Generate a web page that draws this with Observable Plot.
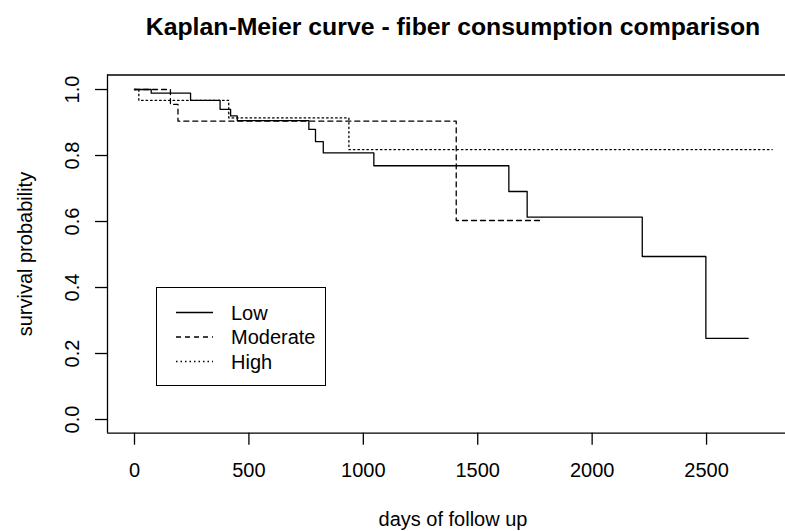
<!DOCTYPE html>
<html><head><meta charset="utf-8">
<script src="https://cdn.jsdelivr.net/npm/d3@7"></script>
<script src="https://cdn.jsdelivr.net/npm/@observablehq/plot@0.6"></script>
<style>
body{margin:0;background:#fff;}
#wrap{position:relative;width:785px;height:531px;font-family:"Liberation Sans",Arial,sans-serif;}
#legend{position:absolute;left:156px;top:287px;width:168px;height:97px;border:1.3px solid #000;box-sizing:content-box;}
#legend svg{position:absolute;left:0;top:0;}
</style></head>
<body><div id="wrap"></div>
<script>
const titleText = "Kaplan-Meier curve - fiber consumption comparison";
const xLabel = "days of follow up";
const yLabel = "survival probability";
const xTicks = [0, 500, 1000, 1500, 2000, 2500];
const yTicks = [0, 0.2, 0.4, 0.6, 0.8, 1.0];
const groups = ["Low", "Moderate", "High"];
const dashes = ["none", "5,4", "1.5,3"];

const lowTime = [0, 73, 245, 374, 420, 449, 762, 791, 825, 1046, 1636, 1716, 2219, 2497, 2682];
const lowSurv = [1, 0.989, 0.967, 0.940, 0.920, 0.906, 0.879, 0.842, 0.808, 0.769, 0.691, 0.613, 0.494, 0.246, 0.246];
const modTime = [0, 157, 190, 1406, 1775];
const modSurv = [1, 0.955, 0.904, 0.603, 0.603];
const highTime = [0, 19, 412, 937, 2787];
const highSurv = [1, 0.967, 0.914, 0.818, 0.818];

const times = [lowTime, modTime, highTime];
const survs = [lowSurv, modSurv, highSurv];
const rows = groups.map((g, k) => times[k].map((t, i) => ({group: g, t, s: survs[k][i]})));

const xDom = [-118, 2845];
const yDom = [-0.0415, 1.044];
const font = "'Liberation Sans', Arial, sans-serif";

const chart = Plot.plot({
  width: 785, height: 531,
  marginLeft: 107, marginRight: 0, marginTop: 74.5, marginBottom: 98.3,
  x: {domain: xDom, axis: null},
  y: {domain: yDom, axis: null},
  style: {fontFamily: font, fontSize: "20px", color: "#000", background: "transparent", overflow: "visible"},
  marks: [
    Plot.ruleY([yDom[1]], {stroke: "#000", strokeWidth: 1.3}),
    Plot.ruleY([yDom[0]], {stroke: "#000", strokeWidth: 1.3}),
    Plot.ruleX([xDom[0]], {stroke: "#000", strokeWidth: 1.3}),
    Plot.axisX({ticks: xTicks, tickSize: 12, tickFormat: () => "", label: null, strokeWidth: 1.3}),
    Plot.axisY({ticks: yTicks, tickSize: 12, tickFormat: () => "", label: null, strokeWidth: 1.3}),
    Plot.text(xTicks, {x: d => d, frameAnchor: "bottom", lineAnchor: "middle", textAnchor: "middle", dy: 37, text: d => String(d), fontSize: 20, fill: "#000"}),
    Plot.text(yTicks, {y: d => d, frameAnchor: "left", lineAnchor: "middle", textAnchor: "middle", dx: -35, rotate: -90, text: d => d3.format(".1f")(d), fontSize: 20, fill: "#000"}),
    Plot.text([xLabel], {frameAnchor: "bottom", lineAnchor: "middle", textAnchor: "middle", dx: 6.5, dy: 86, text: d => d, fontSize: 20, fill: "#000"}),
    Plot.text([yLabel], {frameAnchor: "left", lineAnchor: "middle", textAnchor: "middle", dx: -82, rotate: -90, text: d => d, fontSize: 20, fill: "#000"}),
    Plot.text([titleText], {frameAnchor: "top", lineAnchor: "middle", textAnchor: "middle", dx: 6.5, dy: -47.5, text: d => d, fontSize: 24.8, fontWeight: "bold", fill: "#000"}),
    ...rows.map((r, k) => Plot.line(r, {x: "t", y: "s", curve: "step-after", stroke: "#000", strokeWidth: 1.3, strokeDasharray: dashes[k]}))
  ]
});
const wrap = document.getElementById("wrap");
wrap.appendChild(chart);

// legend
const leg = document.createElement("div");
leg.id = "legend";
const ns = "http://www.w3.org/2000/svg";
const svg = document.createElementNS(ns, "svg");
svg.setAttribute("width", 168); svg.setAttribute("height", 97);
groups.forEach((g, k) => {
  const y = 24.5 + k * 24.5;
  const ln = document.createElementNS(ns, "line");
  ln.setAttribute("x1", 19); ln.setAttribute("x2", 56);
  ln.setAttribute("y1", y); ln.setAttribute("y2", y);
  ln.setAttribute("stroke", "#000"); ln.setAttribute("stroke-width", 1.3);
  if (dashes[k] !== "none") ln.setAttribute("stroke-dasharray", dashes[k]);
  svg.appendChild(ln);
  const tx = document.createElementNS(ns, "text");
  tx.setAttribute("x", 74); tx.setAttribute("y", y);
  tx.setAttribute("dy", "0.35em");
  tx.setAttribute("font-size", 20);
  tx.setAttribute("font-family", font);
  tx.textContent = g;
  svg.appendChild(tx);
});
leg.appendChild(svg);
wrap.appendChild(leg);
</script>
</body></html>
